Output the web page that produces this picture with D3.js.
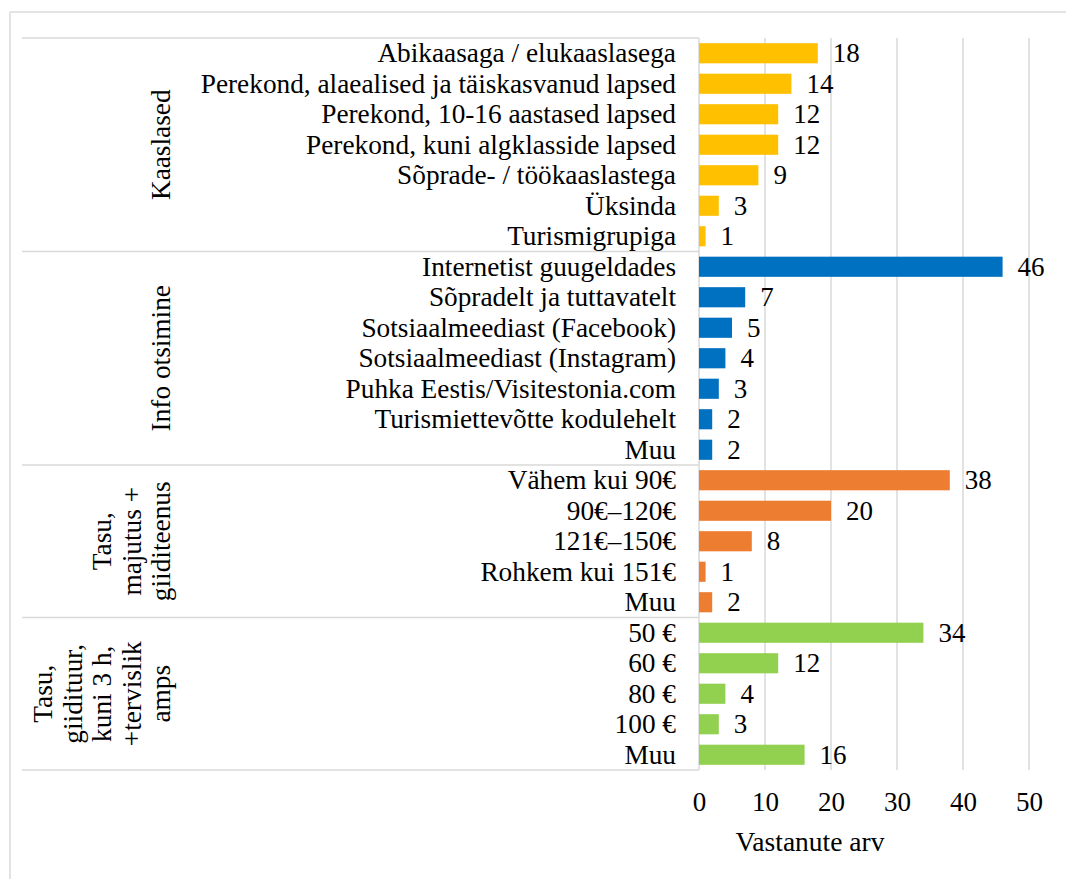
<!DOCTYPE html>
<html>
<head>
<meta charset="utf-8">
<script src="https://cdn.jsdelivr.net/npm/d3@7"></script>
<style>
  html, body { margin: 0; padding: 0; background: #fff; }
  svg text { font-family: "Liberation Serif", "Times New Roman", serif; fill: #000; }
</style>
</head>
<body>
<svg id="chart" width="1066" height="879"></svg>
<script>
// ---- data ----
const groupNames = ["Kaaslased", "Info otsimine", "Tasu, majutus + giiditeenus", "Tasu, giidituur, kuni 3 h, +tervislik amps"];
const groupLabelLines = [
  ["Kaaslased"],
  ["Info otsimine"],
  ["Tasu,", "majutus +", "giiditeenus"],
  ["Tasu,", "giidituur,", "kuni 3 h,", "+tervislik", "amps"]
];
const groupColors = ["#FFC000", "#0070C0", "#ED7D31", "#92D050"];

const kaaslasedLabels = ["Abikaasaga / elukaaslasega", "Perekond, alaealised ja täiskasvanud lapsed", "Perekond, 10-16 aastased lapsed", "Perekond, kuni algklasside lapsed", "Sõprade- / töökaaslastega", "Üksinda", "Turismigrupiga"];
const kaaslasedValues = [18, 14, 12, 12, 9, 3, 1];

const infoLabels = ["Internetist guugeldades", "Sõpradelt ja tuttavatelt", "Sotsiaalmeediast (Facebook)", "Sotsiaalmeediast (Instagram)", "Puhka Eestis/Visitestonia.com", "Turismiettevõtte kodulehelt", "Muu"];
const infoValues = [46, 7, 5, 4, 3, 2, 2];

const majutusLabels = ["Vähem kui 90€", "90€–120€", "121€–150€", "Rohkem kui 151€", "Muu"];
const majutusValues = [38, 20, 8, 1, 2];

const giidituurLabels = ["50 €", "60 €", "80 €", "100 €", "Muu"];
const giidituurValues = [34, 12, 4, 3, 16];

const xTicks = [0, 10, 20, 30, 40, 50];
const xTitle = "Vastanute arv";

// ---- build rows ----
const groups = [
  { labels: kaaslasedLabels, values: kaaslasedValues },
  { labels: infoLabels, values: infoValues },
  { labels: majutusLabels, values: majutusValues },
  { labels: giidituurLabels, values: giidituurValues }
];
const rows = [];
groups.forEach((g, gi) => g.labels.forEach((l, i) => rows.push({ id: gi + "|" + l + "|" + i, label: l, value: g.values[i], group: gi })));

// ---- layout ----
const svg = d3.select("#chart");
const plotTop = 38, plotBottom = 770, x0 = 699, x1 = 1029;
const x = d3.scaleLinear().domain([0, 50]).range([x0, x1]);
const y = d3.scaleBand().domain(rows.map(r => r.id)).range([plotTop, plotBottom]).paddingInner(0.34).paddingOuter(0.17);
const step = y.step();
const gridColor = "#d9d9d9";

// outer frame (top and left)
svg.append("line").attr("x1", 10).attr("x2", 1066).attr("y1", 12).attr("y2", 12).attr("stroke", "#e3e3e3").attr("stroke-width", 2);
svg.append("line").attr("x1", 10).attr("x2", 10).attr("y1", 12).attr("y2", 879).attr("stroke", "#e3e3e3").attr("stroke-width", 2);

// gridlines
svg.append("g").selectAll("line").data(xTicks.filter(t => t > 0)).join("line")
  .attr("x1", d => x(d)).attr("x2", d => x(d)).attr("y1", plotTop).attr("y2", plotBottom)
  .attr("stroke", gridColor).attr("stroke-width", 1.5);

// group separators
let cum = 0;
const bounds = [plotTop];
groups.forEach(g => { cum += g.labels.length; bounds.push(plotTop + cum * step); });
svg.append("g").selectAll("line").data(bounds).join("line")
  .attr("x1", 22).attr("x2", x0).attr("y1", d => d).attr("y2", d => d)
  .attr("stroke", gridColor).attr("stroke-width", 1.5);

// vertical axis line
svg.append("line").attr("x1", x0).attr("x2", x0).attr("y1", plotTop).attr("y2", plotBottom)
  .attr("stroke", gridColor).attr("stroke-width", 1.5);

// bars
svg.append("g").selectAll("rect").data(rows).join("rect")
  .attr("x", x(0)).attr("y", d => y(d.id))
  .attr("width", d => x(d.value) - x(0)).attr("height", y.bandwidth())
  .attr("fill", d => groupColors[d.group]);

// value labels
svg.append("g").selectAll("text").data(rows).join("text")
  .attr("x", d => x(d.value) + 15).attr("y", d => y(d.id) + y.bandwidth() / 2 + 9)
  .attr("font-size", 27).text(d => d.value);

// category labels
svg.append("g").selectAll("text").data(rows).join("text")
  .attr("x", 676).attr("y", d => y(d.id) + y.bandwidth() / 2 + 9)
  .attr("text-anchor", "end").attr("font-size", 27.3).text(d => d.label);

// group labels (rotated)
groupLabelLines.forEach((lines, gi) => {
  const cy = (bounds[gi] + bounds[gi + 1]) / 2;
  const n = lines.length;
  lines.forEach((ln, li) => {
    const bx = 170 - (n - 1 - li) * 29.5;
    svg.append("text")
      .attr("transform", `translate(${bx},${cy}) rotate(-90)`)
      .attr("text-anchor", "middle").attr("font-size", 27.3).text(ln);
  });
});

// x axis tick labels
const xAxis = d3.axisBottom(x).tickValues(xTicks).tickSize(0).tickPadding(0);
const ax = svg.append("g").attr("transform", `translate(0, ${plotBottom})`).call(xAxis);
ax.select(".domain").remove();
ax.selectAll("text").attr("font-size", 27).attr("dy", 0).attr("y", 41)
  .style("font-family", "Liberation Serif, Times New Roman, serif").attr("fill", "#000");

// x title
svg.append("text").attr("x", 810).attr("y", 851).attr("text-anchor", "middle")
  .attr("font-size", 27.5).text(xTitle);
</script>
</body>
</html>
